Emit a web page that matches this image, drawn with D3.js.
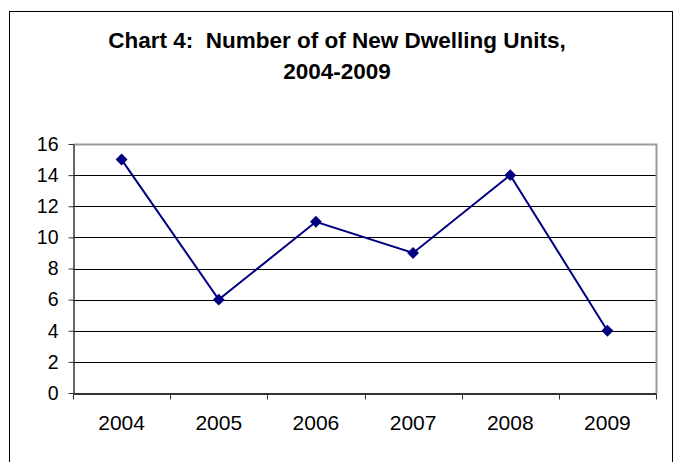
<!DOCTYPE html>
<html>
<head>
<meta charset="utf-8">
<script src="https://cdn.jsdelivr.net/npm/d3@7"></script>
<style>
  body { margin: 0; background: #fff; }
  svg { display: block; font-family: Arial, "Liberation Sans", sans-serif; }
</style>
</head>
<body>
<div id="chart"></div>
<script>
var years = ["2004", "2005", "2006", "2007", "2008", "2009"];
var dwellings = [15, 6, 11, 9, 14, 4];
var yTicks = [0, 2, 4, 6, 8, 10, 12, 14, 16];
var titleLines = ["Chart 4:  Number of of New Dwelling Units,", "2004-2009"];

var width = 676
var height = 462
var margin = { top: 144, bottom: 69, left: 73, right: 20 };

var svg = d3.select("#chart").append("svg")
    .attr("width", width)
    .attr("height", height);

// chart area border
svg.append("rect")
    .attr("x", 9.5)
    .attr("y", 11.5)
    .attr("width", 663)
    .attr("height", 460)
    .attr("fill", "#fff")
    .attr("stroke", "#000")
    .attr("stroke-width", 1);

svg.selectAll(".title")
    .data(titleLines)
    .enter().append("text")
    .attr("class", "title")
    .attr("x", 337)
    .attr("y", function(d, i) { return 48 + i * 31; })
    .attr("text-anchor", "middle")
    .style("font-size", "22.5px")
    .style("font-weight", "bold")
    .style("white-space", "pre")
    .text(function(d) { return d; });

var x = d3.scaleBand()
    .range([margin.left, width - margin.right])
    .domain(years);
var y = d3.scaleLinear()
    .range([height - margin.bottom, margin.top])
    .domain([0, 16]);

var plotRight = width - margin.right;
var plotBottom = height - margin.bottom;

// gridlines
svg.selectAll(".grid")
    .data(yTicks.slice(1, -1))
    .enter().append("line")
    .attr("class", "grid")
    .attr("x1", margin.left)
    .attr("x2", plotRight)
    .attr("y1", function(d) { return Math.round(y(d)) + 0.5; })
    .attr("y2", function(d) { return Math.round(y(d)) + 0.5; })
    .attr("stroke", "#000")
    .attr("stroke-width", 1);

// plot area top and right border
svg.append("path")
    .attr("d", "M" + margin.left + "," + (margin.top + 0.5) + "H" + (plotRight + 0.5) + "V" + plotBottom)
    .attr("fill", "none")
    .attr("stroke", "#9a9a9a")
    .attr("stroke-width", 2);

var yAxis = svg.append("g")
    .attr("class", "y axis")
    .attr("transform", "translate(" + (margin.left + 0.5) + ", 0)")
    .call(d3.axisLeft(y).tickValues(yTicks).tickSize(5).tickPadding(10).tickSizeOuter(0));

var xAxis = svg.append("g")
    .attr("class", "x axis")
    .attr("transform", "translate(0, " + (plotBottom + 0.5) + ")")
    .call(d3.axisBottom(x).tickSize(0).tickPadding(22).tickSizeOuter(0));

// category separators as ticks
xAxis.selectAll(".sep")
    .data(d3.range(years.length + 1))
    .enter().append("line")
    .attr("class", "sep")
    .attr("x1", function(i) { return Math.round(margin.left + i * x.step()) + 0.5; })
    .attr("x2", function(i) { return Math.round(margin.left + i * x.step()) + 0.5; })
    .attr("y1", 0)
    .attr("y2", 6)
    .attr("stroke", "#333");

svg.selectAll(".axis path, .axis line").attr("stroke", "#333");
yAxis.selectAll("path").attr("stroke-width", 1.5);
xAxis.selectAll("path").attr("stroke-width", 2);
yAxis.selectAll("text")
    .style("font-size", "19.5px")
    .style("font-family", "Arial, 'Liberation Sans', sans-serif")
    .attr("fill", "#000");
xAxis.selectAll("text").style("font-size", "21px").style("font-family", "Arial, 'Liberation Sans', sans-serif").attr("fill", "#000");

var line = d3.line()
    .x(function(d, i) { return x(years[i]) + x.bandwidth() / 2; })
    .y(function(d) { return y(d); });

svg.append("path")
    .datum(dwellings)
    .attr("d", line)
    .attr("fill", "none")
    .attr("stroke", "#000080")
    .attr("stroke-width", 2);

svg.selectAll(".marker")
    .data(dwellings)
    .enter().append("path")
    .attr("class", "marker")
    .attr("d", d3.symbol().type(d3.symbolDiamond2).size(90))
    .attr("transform", function(d, i) {
        return "translate(" + (x(years[i]) + x.bandwidth() / 2) + "," + y(d) + ")";
    })
    .attr("fill", "#000080");
</script>
</body>
</html>
